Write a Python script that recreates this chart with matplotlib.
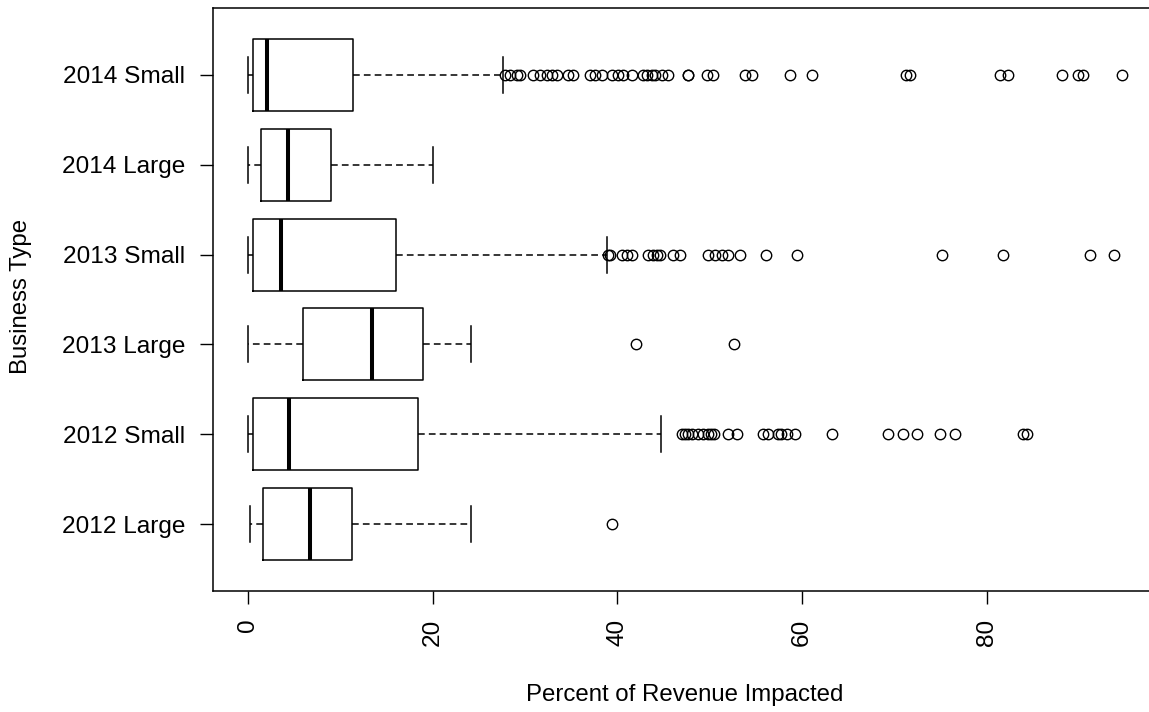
import numpy as np
import matplotlib
matplotlib.use("Agg")
import matplotlib.pyplot as plt

plt.rcParams['font.family'] = ['Liberation Sans', 'DejaVu Sans']

# categories, bottom to top
labels = ["2012 Large", "2012 Small", "2013 Large", "2013 Small", "2014 Large", "2014 Small"]

# five-number summaries
whis_lo = [0.25, 0.0, 0.0, 0.0, 0.0, 0.0]
q1 = [1.6, 0.55, 6.0, 0.55, 1.4, 0.57]
med = [6.7, 4.5, 13.4, 3.6, 4.3, 2.1]
q3 = [11.3, 18.4, 18.9, 16.0, 9.0, 11.4]
whis_hi = [24.1, 44.7, 24.1, 38.9, 20.0, 27.6]

# outliers
fl_2012_large = [39.4]
fl_2012_small = [47.0, 47.3, 47.6, 48.1, 48.7, 49.3, 49.8, 50.1, 50.5, 52.0, 52.9,
                 55.8, 56.3, 57.4, 57.7, 58.3, 59.2, 63.2, 69.3, 70.9, 72.4,
                 74.9, 76.5, 83.9, 84.3]
fl_2013_large = [42.0, 52.6]
fl_2013_small = [39.0, 39.2, 40.5, 41.0, 41.6, 43.3, 43.8, 44.3, 44.6, 46.0, 46.8,
                 49.8, 50.6, 51.3, 52.0, 53.3, 56.1, 59.4, 75.1, 81.7, 91.2, 93.7]
fl_2014_large = []
fl_2014_small = [27.8, 28.4, 29.1, 29.5, 30.9, 31.6, 32.4, 32.9, 33.5, 34.6, 35.2,
                 37.0, 37.6, 38.3, 39.4, 40.1, 40.6, 41.6, 42.8, 43.2, 43.7, 44.1,
                 44.8, 45.5, 47.6, 47.6, 49.7, 50.3, 53.8, 54.6, 58.7, 61.1,
                 71.2, 71.7, 81.4, 82.3, 88.1, 89.9, 90.4, 94.6]
fliers = [fl_2012_large, fl_2012_small, fl_2013_large, fl_2013_small,
          fl_2014_large, fl_2014_small]

stats = []
for i in range(len(labels)):
    stats.append(dict(label=labels[i], whislo=whis_lo[i], q1=q1[i], med=med[i],
                      q3=q3[i], whishi=whis_hi[i], fliers=fliers[i]))

fig = plt.figure(figsize=(11.49, 7.12), dpi=100)
ax = fig.add_axes([213 / 1149, 121 / 712, 944 / 1149, 583 / 712])

pos = np.arange(1, len(labels) + 1)
ax.bxp(stats, positions=pos, widths=0.8, capwidths=0.4, orientation='horizontal',
       boxprops=dict(color='black', linewidth=1.1),
       medianprops=dict(color='black', linewidth=2.9, solid_capstyle='butt'),
       whiskerprops=dict(color='black', linewidth=1.1, linestyle=(0, (4.4, 2.7))),
       capprops=dict(color='black', linewidth=1.1),
       flierprops=dict(marker='o', markerfacecolor='none', markeredgecolor='black',
                       markersize=7.5, markeredgewidth=1.0))

ax.set_xlim(-3.78, 98.4)
ax.set_ylim(0.26, 6.74)
ax.set_xticks([0, 20, 40, 60, 80])
ax.set_xticklabels(['0', '20', '40', '60', '80'], rotation=90, fontsize=17.6)
ax.set_yticks(pos)
ax.set_yticklabels(labels, fontsize=17.6)
ax.tick_params(axis='both', length=9.4, width=1.0, pad=10.5, colors='black')

for s in ax.spines.values():
    s.set_linewidth(1.1)

fig.text(685 / 1149, 1 - 695 / 712, "Percent of Revenue Impacted", fontsize=17.3,
         ha='center', va='center')
fig.text(21 / 1149, 1 - 296 / 712, "Business Type", fontsize=17.3, rotation=90,
         ha='center', va='center')

fig.savefig("out.png", dpi=100)
